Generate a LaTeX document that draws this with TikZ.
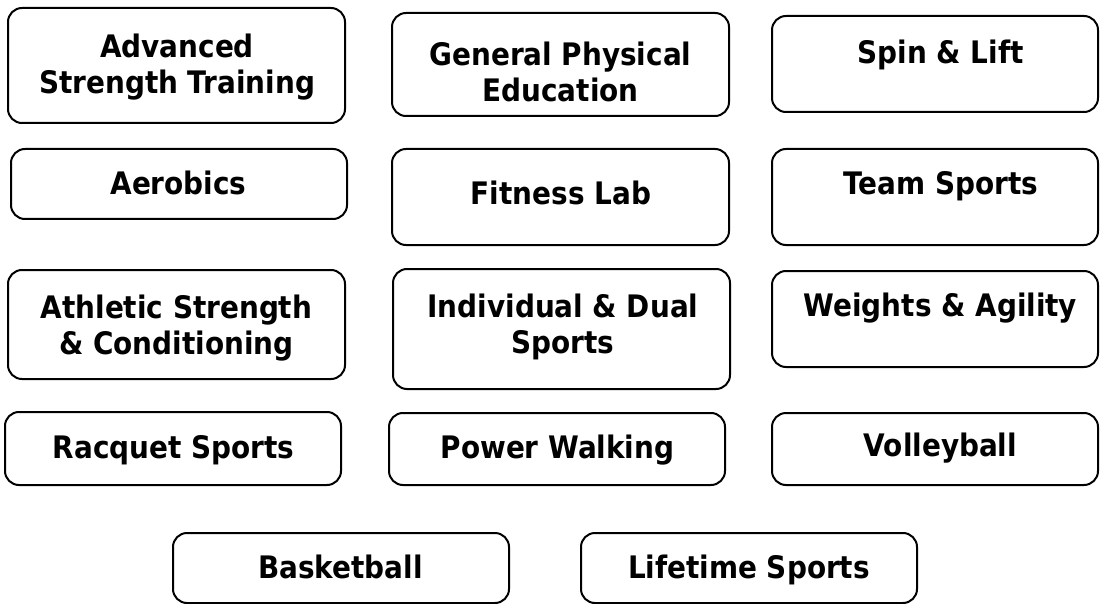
\documentclass[tikz,border=0pt]{standalone}
\usepackage{fontspec}
\newfontfamily\lblfont{DejaVu Sans Condensed Bold}
\begin{document}
\begin{tikzpicture}[x=1pt,y=-1pt,
  box/.style={draw=black,line width=2pt,rounded corners=14pt,inner sep=0pt},
  lbl/.style={inner sep=0pt,align=center,font=\lblfont\fontsize{31}{36}\selectfont,text=black}]
\useasboundingbox (0,0) rectangle (1100,604);
\newcommand\boxat[5]{\node[box,minimum width={#4-#2},minimum height={#5-#3}] (#1) at ({(#2+#4)/2},{(#3+#5)/2}) {};}
\boxat{adv}{8}{8}{345}{123}
\boxat{gen}{392}{13}{729}{116}
\boxat{spin}{772}{16}{1098}{112}
\boxat{aer}{11}{149}{347}{219}
\boxat{fit}{392}{149}{729}{245}
\boxat{team}{772}{149}{1098}{245}
\boxat{ath}{8}{270}{345}{379}
\boxat{ind}{393}{269}{730}{389}
\boxat{wts}{772}{271}{1098}{367}
\boxat{rac}{5}{412}{341}{485}
\boxat{pow}{389}{413}{725}{485}
\boxat{vol}{772}{413}{1098}{485}
\boxat{bas}{173}{533}{509}{603}
\boxat{lif}{581}{533}{917}{603}
\node[lbl] (adv-t) at (177,67.3) {Advanced\\Strength Training};
\node[lbl] (gen-t) at (560.5,71.7) {General Physical\\Education};
\node[lbl,anchor=base] (spin-t) at (940.5,63.3) {Spin \& Lift};
\node[lbl,anchor=base] (aer-t) at (178.5,195) {Aerobics};
\node[lbl,anchor=base] (fit-t) at (561,205) {Fitness Lab};
\node[lbl,anchor=base] (team-t) at (941,195) {Team Sports};
\node[lbl] (ath-t) at (176.5,328.3) {Athletic Strength\\\& Conditioning};
\node[lbl] (ind-t) at (563,326.8) {Individual \& Dual\\Sports};
\node[lbl,anchor=base] (wts-t) at (940.5,316.7) {Weights \& Agility};
\node[lbl,anchor=base] (rac-t) at (173.5,458.3) {Racquet Sports};
\node[lbl,anchor=base] (pow-t) at (557.5,458.3) {Power Walking};
\node[lbl,anchor=base] (vol-t) at (940.5,456.7) {Volleyball};
\node[lbl,anchor=base] (bas-t) at (340.5,578.3) {Basketball};
\node[lbl,anchor=base] (lif-t) at (749,578.3) {Lifetime Sports};
\end{tikzpicture}
\end{document}
